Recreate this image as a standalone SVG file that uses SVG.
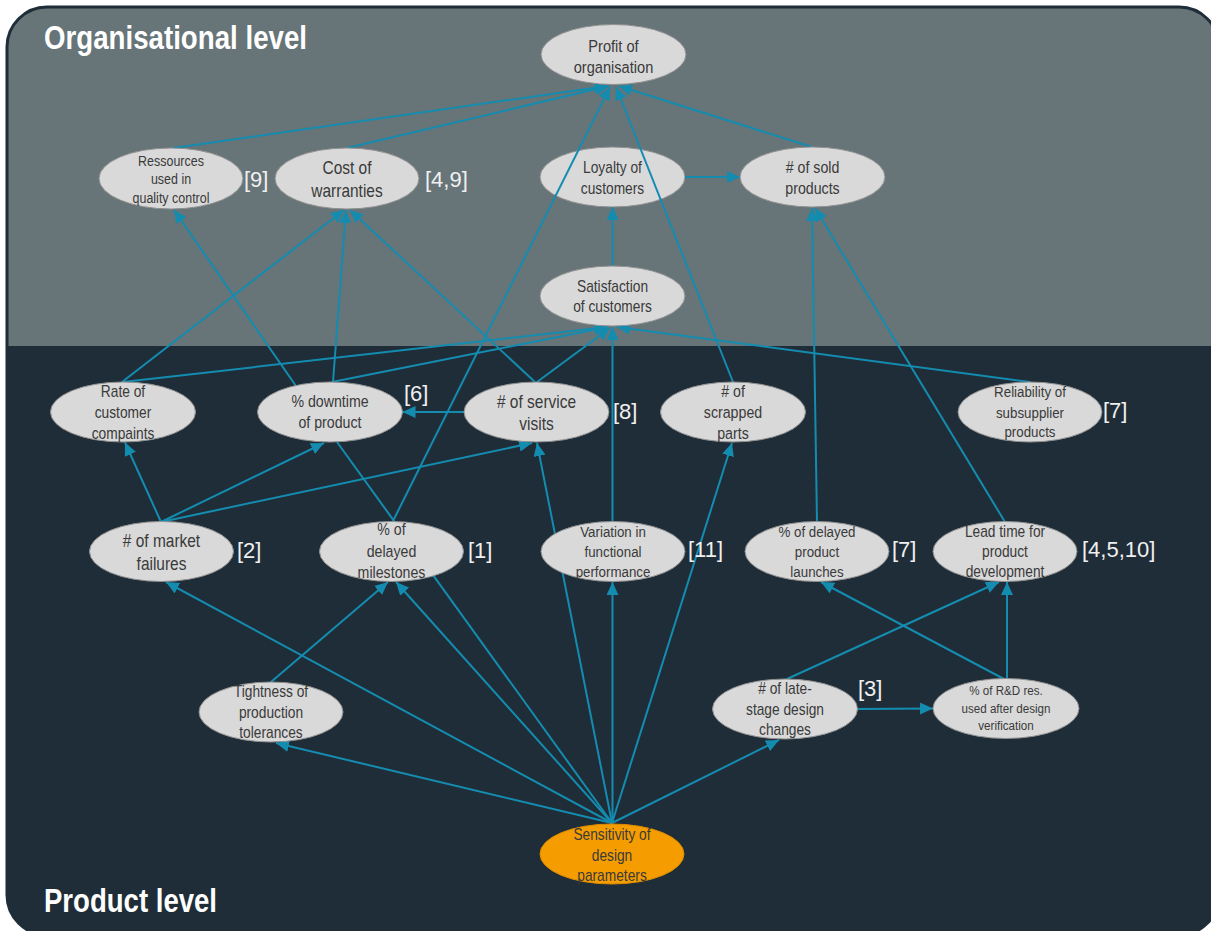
<svg xmlns="http://www.w3.org/2000/svg" width="1211" height="931" viewBox="0 0 1211 931">
<defs>
<style>
.node ellipse{fill:#d9d9d9;stroke:#8f8f8f;stroke-width:1}
.node.src ellipse{fill:#f59d00;stroke:#d98a00}
.node text{font-family:"Liberation Sans",Arial,sans-serif;fill:#3a3a3a;text-anchor:middle}
.lbl{font-family:"Liberation Sans",Arial,sans-serif;fill:#f0f0f0;font-size:22px}
.title{font-family:"Liberation Sans",Arial,sans-serif;font-weight:bold;fill:#ffffff;font-size:34px}
#edges line{stroke:#148cb0;stroke-width:2;fill:none}
#edges line.a{marker-end:url(#ah)}
</style>
<marker id="ah" markerUnits="userSpaceOnUse" markerWidth="14" markerHeight="12" refX="13" refY="6" orient="auto"><path d="M0,0 L13,6 L0,12 z" fill="#148cb0"/></marker>
<clipPath id="frame"><rect x="7" y="7" width="1212" height="928" rx="40"/></clipPath>
</defs>
<rect x="0" y="0" width="1211" height="931" fill="#ffffff"/>
<g id="background">
<rect x="7" y="7" width="1212" height="928" rx="40" fill="#1f2d38"/>
<rect x="0" y="0" width="1211" height="346" fill="#677478" clip-path="url(#frame)"/>
<rect x="7" y="7" width="1212" height="928" rx="40" fill="none" stroke="#1f2d38" stroke-width="3"/>
<text class="title" x="44" y="49" textLength="263" lengthAdjust="spacingAndGlyphs">Organisational level</text>
<text class="title" x="44" y="912" textLength="173" lengthAdjust="spacingAndGlyphs">Product level</text>
</g>
<g id="loyalty" class="node" transform="translate(612.5,177)"><ellipse rx="72.5" ry="30"/><text font-size="16" transform="scale(0.86,1)"><tspan x="0" y="-4">Loyalty  of</tspan><tspan x="0" y="17">customers</tspan></text></g>
<g id="edges">
<line class="a" x1="173" y1="148" x2="607" y2="86"/>
<line class="a" x1="347" y1="148" x2="609" y2="86"/>
<line class="a" x1="393" y1="521" x2="610" y2="87"/>
<line class="a" x1="733" y1="382" x2="616" y2="87"/>
<line class="a" x1="812" y1="147" x2="619" y2="86"/>
<line class="a" x1="685" y1="177" x2="740" y2="177"/>
<line class="a" x1="612.5" y1="266" x2="612.5" y2="207"/>
<line class="a" x1="817" y1="522" x2="812" y2="208"/>
<line class="a" x1="1005" y1="522" x2="815" y2="208"/>
<line class="a" x1="123" y1="382" x2="607" y2="327"/>
<line class="a" x1="332" y1="382" x2="608" y2="327"/>
<line class="a" x1="537" y1="382" x2="610" y2="328"/>
<line class="a" x1="612.5" y1="522" x2="612.5" y2="327"/>
<line class="a" x1="1030" y1="382" x2="617" y2="327"/>
<line class="a" x1="122" y1="382" x2="344" y2="210"/>
<line class="a" x1="333" y1="382" x2="346" y2="210"/>
<line class="a" x1="535" y1="382" x2="350" y2="210"/>
<line class="a" x1="296" y1="386" x2="174" y2="210"/>
<line class="a" x1="464" y1="412" x2="402.5" y2="412"/>
<line class="a" x1="161" y1="522" x2="125" y2="442.5"/>
<line class="a" x1="161" y1="522" x2="324" y2="443"/>
<line class="a" x1="161" y1="522" x2="532" y2="443"/>
<line x1="612" y1="823" x2="337" y2="442"/>
<line class="a" x1="612" y1="823" x2="537" y2="443"/>
<line class="a" x1="612.5" y1="823" x2="612.5" y2="582"/>
<line class="a" x1="612" y1="823" x2="732" y2="443"/>
<line class="a" x1="612" y1="823" x2="396" y2="582"/>
<line class="a" x1="271" y1="682" x2="388" y2="582"/>
<line class="a" x1="612" y1="823" x2="166" y2="582"/>
<line class="a" x1="612" y1="823" x2="276" y2="743"/>
<line class="a" x1="612" y1="823" x2="779" y2="740"/>
<line class="a" x1="858" y1="709" x2="933" y2="708.5"/>
<line class="a" x1="787" y1="679" x2="999" y2="582"/>
<line class="a" x1="1004" y1="679" x2="821" y2="582"/>
<line class="a" x1="1007" y1="679" x2="1007" y2="582"/>
</g>
<g id="profit" class="node" transform="translate(613.5,54.5)"><ellipse rx="72.5" ry="30"/><text font-size="17" transform="scale(0.86,1)"><tspan x="0" y="-2.5">Profit of</tspan><tspan x="0" y="18.5">organisation</tspan></text></g>
<g id="ressources" class="node" transform="translate(171,178.5)"><ellipse rx="72" ry="30.5"/><text font-size="14.5" transform="scale(0.86,1)"><tspan x="0" y="-12.5">Ressources</tspan><tspan x="0" y="5.5">used in</tspan><tspan x="0" y="24.5">quality control</tspan></text></g>
<g id="cost" class="node" transform="translate(347,178.5)"><ellipse rx="72" ry="30.5"/><text font-size="18" transform="scale(0.86,1)"><tspan x="0" y="-4.5">Cost of</tspan><tspan x="0" y="18.5">warranties</tspan></text></g>
<g id="sold" class="node" transform="translate(812.5,177)"><ellipse rx="72.5" ry="30"/><text font-size="16.5" transform="scale(0.86,1)"><tspan x="0" y="-4"># of sold</tspan><tspan x="0" y="17">products</tspan></text></g>
<g id="satisfaction" class="node" transform="translate(612.5,296)"><ellipse rx="72.5" ry="30"/><text font-size="16" transform="scale(0.86,1)"><tspan x="0" y="-4">Satisfaction</tspan><tspan x="0" y="16">of customers</tspan></text></g>
<g id="rate" class="node" transform="translate(123,412)"><ellipse rx="72.5" ry="30"/><text font-size="16" transform="scale(0.86,1)"><tspan x="0" y="-15">Rate of</tspan><tspan x="0" y="6">customer</tspan><tspan x="0" y="27">compaints</tspan></text></g>
<g id="downtime" class="node" transform="translate(330,412)"><ellipse rx="72.5" ry="30"/><text font-size="16.5" transform="scale(0.86,1)"><tspan x="0" y="-5">% downtime</tspan><tspan x="0" y="16">of product</tspan></text></g>
<g id="service" class="node" transform="translate(536.5,412)"><ellipse rx="72.5" ry="30"/><text font-size="18" transform="scale(0.86,1)"><tspan x="0" y="-4"># of service</tspan><tspan x="0" y="18">visits</tspan></text></g>
<g id="scrapped" class="node" transform="translate(733,412)"><ellipse rx="72.5" ry="30"/><text font-size="16.5" transform="scale(0.86,1)"><tspan x="0" y="-15"># of</tspan><tspan x="0" y="6">scrapped</tspan><tspan x="0" y="27">parts</tspan></text></g>
<g id="reliability" class="node" transform="translate(1030,412)"><ellipse rx="72" ry="30"/><text font-size="15.5" transform="scale(0.86,1)"><tspan x="0" y="-15">Reliability  of</tspan><tspan x="0" y="6">subsupplier</tspan><tspan x="0" y="25">products</tspan></text></g>
<g id="market" class="node" transform="translate(161.5,551.5)"><ellipse rx="72" ry="30"/><text font-size="18" transform="scale(0.86,1)"><tspan x="0" y="-4.5"># of market</tspan><tspan x="0" y="18.5">failures</tspan></text></g>
<g id="milestones" class="node" transform="translate(391.5,551.5)"><ellipse rx="72" ry="30"/><text font-size="16.5" transform="scale(0.86,1)"><tspan x="0" y="-16.5">% of</tspan><tspan x="0" y="5.5">delayed</tspan><tspan x="0" y="26.5">milestones</tspan></text></g>
<g id="variation" class="node" transform="translate(613,551.5)"><ellipse rx="72" ry="30"/><text font-size="15.5" transform="scale(0.86,1)"><tspan x="0" y="-14.5">Variation in</tspan><tspan x="0" y="5.5">functional</tspan><tspan x="0" y="25.5">performance</tspan></text></g>
<g id="launches" class="node" transform="translate(817,551.5)"><ellipse rx="72" ry="30"/><text font-size="15.5" transform="scale(0.86,1)"><tspan x="0" y="-14.5">% of delayed</tspan><tspan x="0" y="5.5">product</tspan><tspan x="0" y="25.5">launches</tspan></text></g>
<g id="leadtime" class="node" transform="translate(1005,551.5)"><ellipse rx="72" ry="30"/><text font-size="16" transform="scale(0.86,1)"><tspan x="0" y="-14.5">Lead time for</tspan><tspan x="0" y="5.5">product</tspan><tspan x="0" y="25.5">development</tspan></text></g>
<g id="tightness" class="node" transform="translate(271,712)"><ellipse rx="72" ry="30"/><text font-size="16" transform="scale(0.86,1)"><tspan x="0" y="-15">Tightness of</tspan><tspan x="0" y="6">production</tspan><tspan x="0" y="26">tolerances</tspan></text></g>
<g id="latestage" class="node" transform="translate(785,709)"><ellipse rx="72.5" ry="30"/><text font-size="16" transform="scale(0.86,1)"><tspan x="0" y="-15"># of late-</tspan><tspan x="0" y="6">stage design</tspan><tspan x="0" y="26">changes</tspan></text></g>
<g id="rnd" class="node" transform="translate(1006,708.5)"><ellipse rx="73" ry="30"/><text font-size="13.5" transform="scale(0.86,1)"><tspan x="0" y="-13.5">% of R&amp;D res.</tspan><tspan x="0" y="4.5">used after design</tspan><tspan x="0" y="21.5">verification</tspan></text></g>
<g id="sensitivity" class="node src" transform="translate(612,854)"><ellipse rx="72" ry="30"/><text font-size="16" transform="scale(0.86,1)"><tspan x="0" y="-14">Sensitivity of</tspan><tspan x="0" y="7">design</tspan><tspan x="0" y="27">parameters</tspan></text></g>
<g id="labels">
<text class="lbl" x="244" y="187">[9]</text>
<text class="lbl" x="425" y="187">[4,9]</text>
<text class="lbl" x="404" y="401">[6]</text>
<text class="lbl" x="613" y="419">[8]</text>
<text class="lbl" x="1103" y="418">[7]</text>
<text class="lbl" x="237" y="558">[2]</text>
<text class="lbl" x="468" y="558">[1]</text>
<text class="lbl" x="688" y="557">[11]</text>
<text class="lbl" x="892" y="557">[7]</text>
<text class="lbl" x="1082" y="557">[4,5,10]</text>
<text class="lbl" x="858" y="696">[3]</text>
</g>
</svg>
